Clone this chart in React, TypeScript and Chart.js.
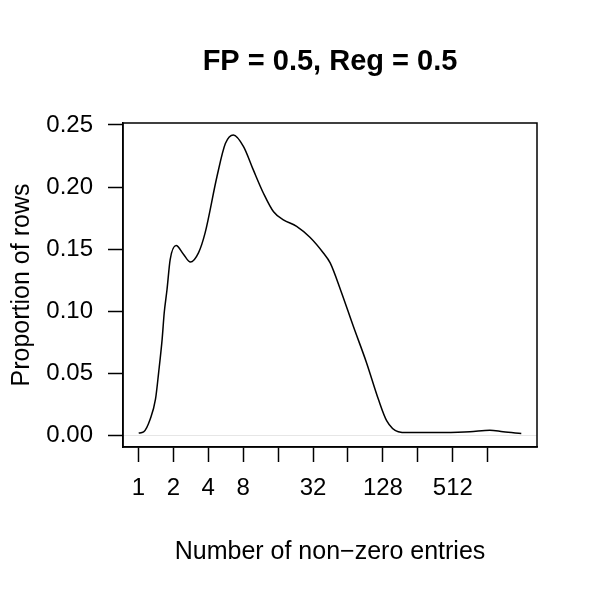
import React, { useEffect, useRef } from "react";
import { Chart, registerables } from "chart.js";

Chart.register(...registerables);

// log2(number of non-zero entries)
const log2Entries = [
  0.01, 0.15, 0.34, 0.49, 0.58, 0.68, 0.74, 0.82, 0.91, 1.08, 1.29, 1.49, 1.72, 1.91,
  2.25, 2.49, 2.72, 3.01, 3.29, 3.58, 3.87, 4.15, 4.53, 4.91, 5.29, 5.49, 5.8, 6.15,
  6.53, 6.87, 7.11, 7.44, 7.7, 8.72, 9.49, 10.06, 10.44, 10.96,
];
const proportion = [
  0.0016, 0.0025, 0.0129, 0.0289, 0.0504, 0.0772, 0.0986, 0.1174, 0.1415, 0.1528,
  0.1458, 0.1395, 0.1469, 0.163, 0.2085, 0.235, 0.242, 0.2326, 0.2138, 0.195, 0.18,
  0.1736, 0.1683, 0.1595, 0.147, 0.1388, 0.116, 0.0879, 0.0584, 0.0289, 0.0115,
  0.0027, 0.002, 0.0021, 0.0027, 0.004, 0.0027, 0.0013,
];
const xTickExps = [0, 1, 2, 3, 4, 5, 6, 7, 8, 9, 10];
const xTickLabels = ["1", "2", "4", "8", "", "32", "", "128", "", "512", ""];
const yTicks = [0, 0.05, 0.1, 0.15, 0.2, 0.25];
const titleText = "FP = 0.5, Reg = 0.5";

const FONT = "'Liberation Sans', Arial, Helvetica, sans-serif";

export default function App() {
  const ref = useRef<HTMLCanvasElement | null>(null);

  useEffect(() => {
    const canvas = ref.current;
    if (!canvas) return;
    Chart.defaults.color = "#000";
    const boxPlugin = {
      id: "rbox",
      afterDraw(chart: any) {
        const { ctx, chartArea } = chart;
        ctx.save();
        ctx.strokeStyle = "#000";
        ctx.lineWidth = 1.5;
        ctx.strokeRect(
          chartArea.left,
          chartArea.top,
          chartArea.right - chartArea.left,
          chartArea.bottom - chartArea.top
        );
        ctx.fillStyle = "#000";
        ctx.font = `bold 29px ${FONT}`;
        ctx.textAlign = "center";
        ctx.textBaseline = "middle";
        ctx.fillText(titleText, (chartArea.left + chartArea.right) / 2, chartArea.top - 61);
        ctx.restore();
      },
    };
    const chart = new Chart(canvas, {
      type: "line",
      data: {
        datasets: [
          {
            data: log2Entries.map((x, i) => ({ x, y: proportion[i] })),
            borderColor: "#000",
            borderWidth: 1.5,
            pointRadius: 0,
            fill: false,
            cubicInterpolationMode: "monotone",
          },
        ],
      },
      options: {
        responsive: false,
        animation: false,
        layout: { padding: { left: 0, right: 63, top: 123, bottom: 0 } },
        plugins: {
          legend: { display: false },
          tooltip: { enabled: false },
          title: { display: false },
        },
        scales: {
          x: {
            type: "linear",
            min: -0.44,
            max: 11.41,
            afterBuildTicks: (scale: any) => {
              scale.ticks = xTickExps.map((v) => ({ value: v }));
            },
            afterFit: (scale: any) => {
              scale.height = 153;
            },
            ticks: {
              autoSkip: false,
              maxRotation: 0,
              padding: 12,
              font: { family: FONT, size: 24 },
              color: "#000",
              callback: (v: any) => {
                const i = xTickExps.indexOf(Number(v));
                return i >= 0 ? xTickLabels[i] : "";
              },
            },
            grid: {
              drawOnChartArea: false,
              tickLength: 15,
              tickWidth: 1.5,
              tickColor: "#000",
            },
            border: { display: true, color: "#000", width: 1.5 },
            title: {
              display: true,
              text: "Number of non\u2212zero entries",
              font: { family: FONT, size: 25 },
              color: "#000",
              padding: { top: 0, bottom: 33 },
            },
          },
          y: {
            min: -0.0096,
            max: 0.2516,
            afterBuildTicks: (scale: any) => {
              scale.ticks = yTicks.map((v) => ({ value: v }));
            },
            afterFit: (scale: any) => {
              scale.width = 123;
            },
            ticks: {
              padding: 15,
              font: { family: FONT, size: 24 },
              color: "#000",
              callback: (v: any) => Number(v).toFixed(2),
            },
            grid: {
              color: (c: any) => (c.tick && c.tick.value === 0 ? "#e6e6e6" : "rgba(0,0,0,0)"),
              lineWidth: 1,
              tickLength: 15,
              tickWidth: 1.5,
              tickColor: "#000",
            },
            border: { display: true, color: "#000", width: 1.5 },
            title: {
              display: true,
              text: "Proportion of rows",
              font: { family: FONT, size: 25 },
              color: "#000",
              padding: { top: 7, bottom: 0 },
            },
          },
        },
      },
      plugins: [boxPlugin],
    } as any);
    return () => chart.destroy();
  }, []);

  return (
    <div style={{ position: "fixed", left: 0, top: 0, width: 600, height: 600, background: "#fff" }}>
      <canvas ref={ref} width={600} height={600} />
    </div>
  );
}
